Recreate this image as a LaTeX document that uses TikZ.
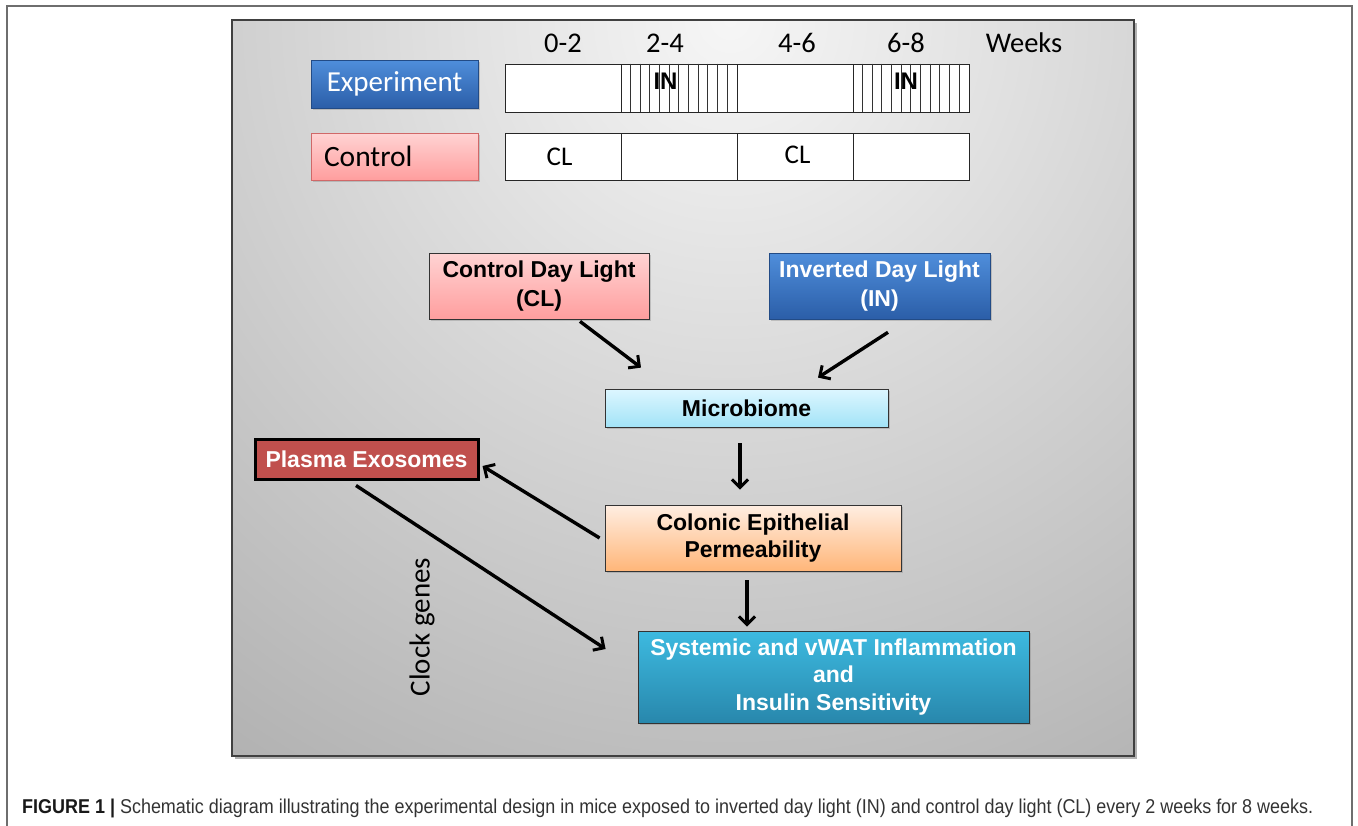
\documentclass[tikz,border=0pt]{standalone}
\usepackage{fontspec}
\setmainfont{Liberation Sans}
\newfontfamily\calfont{Carlito}
\usetikzlibrary{arrows.meta,shadows}
\definecolor{bluetop}{HTML}{4F8EDB}
\definecolor{bluebot}{HTML}{2B5EA8}
\definecolor{pinktop}{HTML}{FFD3D3}
\definecolor{pinkbot}{HTML}{FF9E9E}
\definecolor{pinkedge}{HTML}{D06868}
\definecolor{cyantop}{HTML}{DDF6FF}
\definecolor{cyanbot}{HTML}{A2E3F7}
\definecolor{peachtop}{HTML}{FFEEE2}
\definecolor{peachbot}{HTML}{FFB679}
\definecolor{tealtop}{HTML}{3DBAE0}
\definecolor{tealbot}{HTML}{2887AC}
\definecolor{plasma}{HTML}{C0504D}
\definecolor{panelin}{HTML}{F6F6F6}
\definecolor{panelout}{HTML}{7E7E7E}
\definecolor{framecol}{HTML}{6E6E6E}
\definecolor{capcol}{HTML}{333333}
\tikzset{
  shad/.style={drop shadow={opacity=0.35,shadow xshift=2pt,shadow yshift=-2pt}},
  boxbase/.style={inner sep=0pt, align=center, shad},
  bluebox/.style={boxbase, draw=bluebot!80!black, line width=0.6pt, top color=bluetop, bottom color=bluebot, text=white},
  pinkbox/.style={boxbase, draw=black!80, line width=0.8pt, top color=pinktop, bottom color=pinkbot, text=black},
  cyanbox/.style={boxbase, draw=black!80, line width=0.8pt, top color=cyantop, bottom color=cyanbot, text=black},
  peachbox/.style={boxbase, draw=black!80, line width=0.8pt, top color=peachtop, bottom color=peachbot, text=black},
  tealbox/.style={boxbase, draw=black!80, line width=0.8pt, top color=tealtop, bottom color=tealbot, text=white},
  bold22/.style={font=\fontsize{23}{29}\selectfont\bfseries},
  cell/.style={draw=black!85, line width=0.9pt, fill=white},
  hatch/.style={draw=black!80, line width=0.7pt},
  wk/.style={font=\calfont\fontsize{28.5}{32}\selectfont, anchor=base},
  arr/.style={line width=3.4pt, -{Straight Barb[length=8pt,width=16pt,line width=3pt]}}
}
\begin{document}
\begin{tikzpicture}[x=1pt,y=-1pt]
\useasboundingbox (0,0) rectangle (1358,825);
% outer frame
\draw[framecol, line width=1.2pt] (7,840) -- (7,6) -- (1352,6) -- (1352,840);
% panel
\fill[black, opacity=0.3] (235,23) rectangle (1137,759);
\begin{scope}
\clip (232,20) rectangle (1134,756);
\shade[inner color=panelin, outer color=panelout] (730,20) circle (1560);
\end{scope}
\draw[black!75, line width=1.2pt] (232,20) rectangle (1134,756);

% week labels
\node[wk] (w1) at (563,52) {0-2};
\node[wk] (w2) at (665,52) {2-4};
\node[wk] (w3) at (797,52) {4-6};
\node[wk] (w4) at (906,52) {6-8};
\node[wk] (w5) at (1024,52) {Weeks};

% group labels
\node[bluebox, minimum width=167pt, minimum height=48pt, font=\calfont\fontsize{29}{32}\selectfont] (exp) at (394.5,84) {Experiment};
\node[boxbase, draw=pinkedge, line width=0.8pt, top color=pinktop, bottom color=pinkbot, text=black, minimum height=47pt, text width=141pt, inner xsep=13pt, align=left, font=\calfont\fontsize{29.5}{32}\selectfont] (ctl) at (394.5,156.5) {Control};

% experiment timeline
\node[cell, minimum width=116pt, minimum height=48pt, inner sep=0pt] (e1) at (563,88) {};
\node[cell, minimum width=116pt, minimum height=48pt, inner sep=0pt] (e2) at (679,88) {};
\node[cell, minimum width=116pt, minimum height=48pt, inner sep=0pt] (e3) at (795,88) {};
\node[cell, minimum width=116pt, minimum height=48pt, inner sep=0pt] (e4) at (911,88) {};
\foreach \i in {1,...,11}{
  \draw[hatch] ([xshift=\i*9.667pt]e2.north west) -- ([xshift=\i*9.667pt]e2.south west);
  \draw[hatch] ([xshift=\i*9.667pt]e4.north west) -- ([xshift=\i*9.667pt]e4.south west);
}
\node[font=\fontsize{24}{27}\selectfont\bfseries, anchor=base] (in1) at (665.5,89) {IN};
\node[font=\fontsize{24}{27}\selectfont\bfseries, anchor=base] (in2) at (906,89) {IN};

% control timeline
\node[cell, minimum width=116pt, minimum height=47pt, inner sep=0pt] (c1) at (563,156.5) {};
\node[cell, minimum width=116pt, minimum height=47pt, inner sep=0pt] (c2) at (679,156.5) {};
\node[cell, minimum width=116pt, minimum height=47pt, inner sep=0pt] (c3) at (795,156.5) {};
\node[cell, minimum width=116pt, minimum height=47pt, inner sep=0pt] (c4) at (911,156.5) {};
\node[font=\calfont\fontsize{27}{30}\selectfont, anchor=base] (cl1) at (559.5,165.5) {CL};
\node[font=\calfont\fontsize{27}{30}\selectfont, anchor=base] (cl2) at (797.5,163) {CL};

% flow boxes
\node[pinkbox, bold22, minimum width=220pt, minimum height=66pt] (cl) at (539,286) {Control Day Light\\(CL)};
\node[bluebox, bold22, minimum width=221pt, minimum height=66pt] (in) at (879.5,286) {Inverted Day Light\\(IN)};
\node[cyanbox, bold22, minimum width=283pt, minimum height=38pt] (mic) at (746.5,408) {Microbiome};
\node[boxbase, bold22, draw=black, line width=3pt, fill=plasma, text=white, minimum width=223pt, minimum height=40pt] (pla) at (366.5,459) {Plasma Exosomes};
\node[peachbox, minimum width=296pt, minimum height=66pt, font=\fontsize{23}{27.5}\selectfont\bfseries] (col) at (753,538) {Colonic Epithelial\\Permeability};
\node[tealbox, minimum width=391pt, minimum height=92pt, font=\fontsize{23}{27.5}\selectfont\bfseries] (sys) at (833.5,677) {Systemic and vWAT Inflammation\\and\\Insulin Sensitivity};

\node[rotate=90, font=\calfont\fontsize{29}{32}\selectfont] (clk) at (422,627) {Clock genes};

% arrows
\draw[arr] ([xshift=41pt,yshift=-2pt]cl.south) -- ([xshift=-105.5pt,yshift=21pt]mic.north);
\draw[arr] ([xshift=8.5pt,yshift=-13pt]in.south) -- ([xshift=71.5pt,yshift=11pt]mic.north);
\draw[arr] ([xshift=-6.5pt,yshift=-16pt]mic.south) -- ([xshift=-13pt,yshift=15pt]col.north);
\draw[arr] ([xshift=-5pt]col.west) -- ([xshift=3pt,yshift=-7pt]pla.east);
\draw[arr] ([xshift=-10.5pt,yshift=-5pt]pla.south) -- ([xshift=-32pt,yshift=28pt]sys.west);
\draw[arr] ([xshift=-6pt,yshift=-9pt]col.south) -- ([xshift=-86.5pt,yshift=4pt]sys.north);

% caption
\node[anchor=base west, inner sep=0pt, text=capcol] (cap) at (22,813) {\resizebox{1291pt}{\height}{\fontsize{20}{24}\selectfont\textcolor{black!90}{\bfseries FIGURE 1 |} Schematic diagram illustrating the experimental design in mice exposed to inverted day light (IN) and control day light (CL) every 2 weeks for 8 weeks.}};
\end{tikzpicture}
\end{document}
